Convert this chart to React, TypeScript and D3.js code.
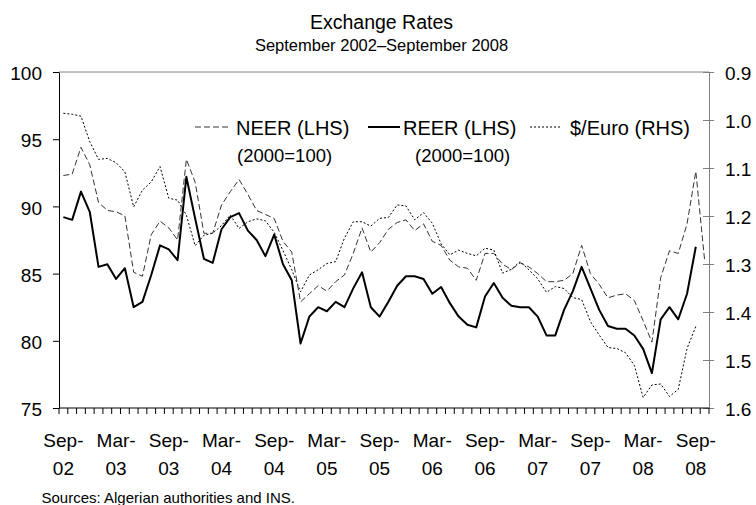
import { useEffect, useRef } from 'react';
import * as d3 from 'd3';

// monthly categories, Sep-02 .. Oct-08
const months = [
  'Sep-02', 'Oct-02', 'Nov-02', 'Dec-02', 'Jan-03', 'Feb-03', 'Mar-03', 'Apr-03', 'May-03', 'Jun-03', 'Jul-03', 'Aug-03',
  'Sep-03', 'Oct-03', 'Nov-03', 'Dec-03', 'Jan-04', 'Feb-04', 'Mar-04', 'Apr-04', 'May-04', 'Jun-04', 'Jul-04', 'Aug-04',
  'Sep-04', 'Oct-04', 'Nov-04', 'Dec-04', 'Jan-05', 'Feb-05', 'Mar-05', 'Apr-05', 'May-05', 'Jun-05', 'Jul-05', 'Aug-05',
  'Sep-05', 'Oct-05', 'Nov-05', 'Dec-05', 'Jan-06', 'Feb-06', 'Mar-06', 'Apr-06', 'May-06', 'Jun-06', 'Jul-06', 'Aug-06',
  'Sep-06', 'Oct-06', 'Nov-06', 'Dec-06', 'Jan-07', 'Feb-07', 'Mar-07', 'Apr-07', 'May-07', 'Jun-07', 'Jul-07', 'Aug-07',
  'Sep-07', 'Oct-07', 'Nov-07', 'Dec-07', 'Jan-08', 'Feb-08', 'Mar-08', 'Apr-08', 'May-08', 'Jun-08', 'Jul-08', 'Aug-08',
  'Sep-08', 'Oct-08',
];

const xTickLabels = [
  'Sep-02', 'Mar-03', 'Sep-03', 'Mar-04', 'Sep-04', 'Mar-05', 'Sep-05',
  'Mar-06', 'Sep-06', 'Mar-07', 'Sep-07', 'Mar-08', 'Sep-08',
];

const neer = [
  92.3, 92.4, 94.4, 93.1, 90.3, 89.7, 89.6, 89.3, 85.1, 84.8, 87.9, 88.9,
  88.4, 87.5, 93.5, 91.8, 88.0, 88.0, 90.1, 91.1, 92.0, 90.9, 89.7, 89.4,
  89.1, 87.4, 86.6, 82.9, 83.5, 84.1, 83.7, 84.4, 84.9, 86.5, 88.4, 86.6,
  87.3, 88.3, 88.8, 89.0, 88.2, 88.7, 87.4, 87.1, 86.0, 85.5, 85.4, 84.5,
  86.5, 86.5, 85.7, 85.3, 85.8, 85.5, 85.0, 84.4, 84.4, 84.5, 85.0, 87.1,
  85.0, 84.2, 83.2, 83.4, 83.5, 83.0, 81.5, 79.9, 84.7, 86.7, 86.5, 88.7,
  92.6, 86.0,
];

const reer: (number | null)[] = [
  89.2, 89.0, 91.1, 89.6, 85.5, 85.7, 84.6, 85.4, 82.5, 82.9, 84.9, 87.1,
  86.8, 86.0, 92.2, 89.1, 86.1, 85.8, 88.3, 89.2, 89.5, 88.2, 87.5, 86.3,
  87.9, 85.7, 84.5, 79.8, 81.8, 82.5, 82.2, 82.9, 82.5, 83.9, 85.1, 82.5,
  81.8, 82.9, 84.1, 84.8, 84.8, 84.6, 83.5, 84.0, 82.8, 81.8, 81.2, 81.0,
  83.3, 84.3, 83.2, 82.6, 82.5, 82.5, 81.8, 80.4, 80.4, 82.3, 83.7, 85.5,
  83.9, 82.3, 81.1, 80.9, 80.9, 80.4, 79.4, 77.6, 81.6, 82.5, 81.6, 83.5,
  87.0, null,
];

const usdEuro: (number | null)[] = [
  0.986, 0.988, 0.992, 1.045, 1.082, 1.080, 1.089, 1.108, 1.181, 1.146, 1.129, 1.097,
  1.163, 1.167, 1.198, 1.262, 1.240, 1.236, 1.220, 1.198, 1.226, 1.212, 1.206, 1.210,
  1.234, 1.272, 1.312, 1.358, 1.323, 1.312, 1.299, 1.295, 1.246, 1.212, 1.212, 1.221,
  1.205, 1.203, 1.177, 1.179, 1.208, 1.193, 1.215, 1.258, 1.281, 1.271, 1.278, 1.283,
  1.267, 1.271, 1.319, 1.311, 1.295, 1.312, 1.331, 1.359, 1.347, 1.351, 1.370, 1.374,
  1.420, 1.448, 1.474, 1.476, 1.485, 1.511, 1.578, 1.552, 1.550, 1.576, 1.561, 1.476,
  1.430, null,
];

const leftTicks = [75, 80, 85, 90, 95, 100];
const rightTicks = [0.9, 1.0, 1.1, 1.2, 1.3, 1.4, 1.5, 1.6];

const W = 756;
const H = 505;
const plot = { left: 59, right: 709, top: 72, bottom: 408 };
const font = '"Liberation Sans", Arial, Helvetica, sans-serif';

export default function App() {
  const svgRef = useRef<SVGSVGElement>(null);

  useEffect(() => {
    if (!svgRef.current) return;
    const svg = d3.select(svgRef.current);
    svg.selectAll('*').remove();

    const x = d3.scaleBand<string>().domain(months).range([plot.left, plot.right]).padding(0);
    const cx = (i: number) => (x(months[i]) ?? 0) + x.bandwidth() / 2;
    const yL = d3.scaleLinear().domain([75, 100]).range([plot.bottom, plot.top]);
    const yR = d3.scaleLinear().domain([0.9, 1.6]).range([plot.top, plot.bottom]);

    svg.attr('width', W).attr('height', H).attr('font-family', font);

    // titles
    svg.append('text').attr('x', 381.5).attr('y', 29).attr('text-anchor', 'middle')
      .attr('font-size', 19.5).text('Exchange Rates');
    svg.append('text').attr('x', 381.5).attr('y', 51).attr('text-anchor', 'middle')
      .attr('font-size', 16.5).text('September 2002\u2013September 2008');

    // frame: top + right in grey
    svg.append('line').attr('x1', plot.left).attr('x2', plot.right).attr('y1', plot.top).attr('y2', plot.top)
      .attr('stroke', '#808080');

    // left axis
    const left = svg.append('g').attr('transform', `translate(${plot.left},0)`)
      .call(d3.axisLeft(yL).tickValues(leftTicks).tickSize(6).tickPadding(11).tickSizeOuter(0));
    left.select('.domain').attr('stroke', '#000');
    left.selectAll('text').attr('font-size', 19).attr('font-family', font).attr('fill', '#000').attr('dy', '0.4em');

    // right axis (ticks cross the line)
    const right = svg.append('g').attr('transform', `translate(${plot.right},0)`)
      .call(d3.axisRight(yR).tickValues(rightTicks).tickFormat(d3.format('.1f')).tickSize(5).tickPadding(11).tickSizeOuter(0));
    right.select('.domain').attr('stroke', '#808080');
    right.selectAll('.tick line').attr('x1', -6).attr('stroke', '#808080');
    right.selectAll('text').attr('font-size', 19).attr('font-family', font).attr('fill', '#000').attr('dy', '0.4em');

    // bottom axis: tick marks on category boundaries
    const bottom = svg.append('g');
    bottom.append('line').attr('x1', plot.left).attr('x2', plot.right).attr('y1', plot.bottom).attr('y2', plot.bottom)
      .attr('stroke', '#000');
    const bounds = months.map((m) => x(m) ?? 0).concat([plot.right]);
    bottom.selectAll('line.tk').data(bounds).join('line').attr('class', 'tk')
      .attr('x1', (d) => d).attr('x2', (d) => d).attr('y1', plot.bottom).attr('y2', plot.bottom + 6)
      .attr('stroke', '#000');
    const lab = bottom.selectAll('text').data(xTickLabels).join('text')
      .attr('text-anchor', 'middle').attr('font-size', 19)
      .attr('transform', (d) => `translate(${cx(months.indexOf(d))},0)`);
    lab.append('tspan').attr('x', 0).attr('y', 447).text((d) => d.split('-')[0] + '-');
    lab.append('tspan').attr('x', 0).attr('y', 475).text((d) => d.split('-')[1]);

    // series
    const lineL = d3.line<number | null>().defined((d) => d != null).x((_, i) => cx(i)).y((d) => yL(d as number));
    const lineR = d3.line<number | null>().defined((d) => d != null).x((_, i) => cx(i)).y((d) => yR(d as number));

    svg.append('path').datum(usdEuro).attr('d', lineR).attr('fill', 'none')
      .attr('stroke', '#000').attr('stroke-width', 1).attr('stroke-dasharray', '2,2');
    svg.append('path').datum(neer).attr('d', lineL).attr('fill', 'none')
      .attr('stroke', '#333').attr('stroke-width', 1).attr('stroke-dasharray', '6,3');
    svg.append('path').datum(reer).attr('d', lineL).attr('fill', 'none')
      .attr('stroke', '#000').attr('stroke-width', 2).attr('stroke-linejoin', 'round');

    // legend
    const lg = svg.append('g');
    const items = [
      { x1: 195, x2: 231, tx: 236, sx: 237, label: 'NEER (LHS)', sub: '(2000=100)', dash: '6,3', w: 1, c: '#333' },
      { x1: 368, x2: 400, tx: 403, sx: 415, label: 'REER (LHS)', sub: '(2000=100)', dash: null, w: 2, c: '#000' },
      { x1: 530, x2: 561, tx: 570, sx: 0, label: '$/Euro (RHS)', sub: '', dash: '2,2', w: 1, c: '#000' },
    ];
    items.forEach((it) => {
      lg.append('line').attr('x1', it.x1).attr('x2', it.x2).attr('y1', 127).attr('y2', 127)
        .attr('stroke', it.c).attr('stroke-width', it.w).attr('stroke-dasharray', it.dash);
      lg.append('text').attr('x', it.tx).attr('y', 134.5).attr('font-size', 20).text(it.label);
      if (it.sub) lg.append('text').attr('x', it.sx).attr('y', 161.5).attr('font-size', 18.5).text(it.sub);
    });

    // source note
    svg.append('text').attr('x', 41.5).attr('y', 503).attr('font-size', 15).text('Sources: Algerian authorities and INS.');
  }, []);

  return <svg ref={svgRef} style={{ position: 'absolute', left: 0, top: 0, background: '#fff' }} />;
}
